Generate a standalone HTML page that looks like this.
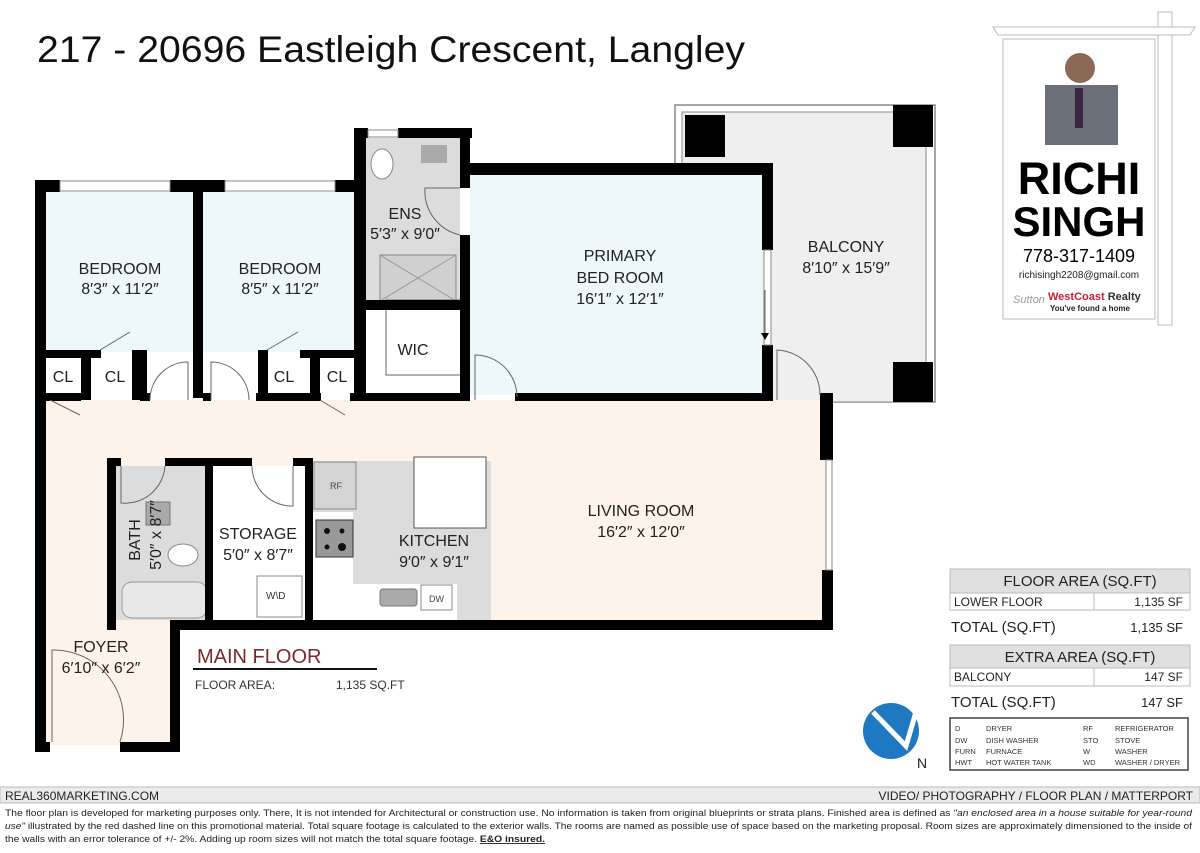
<!DOCTYPE html>
<html><head><meta charset="utf-8"><style>
html,body{margin:0;padding:0;background:#fff;}
svg text{font-family:"Liberation Sans",sans-serif;}
</style></head><body>
<svg width="1200" height="848" viewBox="0 0 1200 848" xmlns="http://www.w3.org/2000/svg">
<rect width="1200" height="848" fill="#fff"/>
<text x="37" y="62" font-size="37" fill="#111" textLength="708" lengthAdjust="spacingAndGlyphs">217 - 20696 Eastleigh Crescent, Langley</text>

<!-- fills -->
<rect x="675" y="105" width="260" height="297" fill="#fff" stroke="#888" stroke-width="1.5"/>
<rect x="682" y="112" width="244" height="290" fill="#efefef" stroke="#888" stroke-width="1"/>
<rect x="46" y="192" width="147" height="160" fill="#eef7fa"/>
<rect x="203" y="192" width="155" height="160" fill="#eef7fa"/>
<rect x="470" y="175" width="292" height="220" fill="#eef7fa"/>
<rect x="46" y="400" width="782" height="220" fill="#fdf3ea"/>
<rect x="46" y="620" width="125" height="125" fill="#fdf3ea"/>
<rect x="366" y="138" width="94" height="162" fill="#dcdcdc"/>
<rect x="366" y="310" width="94" height="85" fill="#fff"/>
<rect x="116" y="466" width="89" height="154" fill="#dcdcdc"/>
<rect x="213" y="466" width="92" height="154" fill="#fff"/>
<rect x="313" y="461" width="178" height="159" fill="#dcdcdc"/>
<rect x="313" y="512" width="40" height="108" fill="#fff"/>
<rect x="353" y="584" width="104" height="36" fill="#fff"/>
<rect x="414" y="457" width="72" height="71" fill="#fff" stroke="#555" stroke-width="1"/>
<rect x="314" y="462" width="42" height="47" fill="#d4d4d4" stroke="#888"/>
<text x="330" y="489" font-size="9" fill="#444">RF</text>
<rect x="316" y="520" width="37" height="37" fill="#999" stroke="#333"/>
<circle cx="327" cy="531" r="3" fill="#111"/><circle cx="342" cy="531" r="2.5" fill="#111"/><circle cx="327" cy="547" r="2.5" fill="#111"/><circle cx="342" cy="547" r="4" fill="#111"/>
<rect x="380" y="589" width="37" height="17" rx="3" fill="#aaa" stroke="#777"/>
<rect x="421" y="585" width="31" height="25" fill="#fff" stroke="#888"/>
<text x="429" y="602" font-size="9" fill="#444">DW</text>
<rect x="380" y="255" width="76" height="46" fill="#d0d0d0" stroke="#888"/>
<line x1="380" y1="255" x2="456" y2="301" stroke="#999"/><line x1="456" y1="255" x2="380" y2="301" stroke="#999"/>
<ellipse cx="382" cy="164" rx="11" ry="15" fill="#fff" stroke="#888"/>
<rect x="421" y="145" width="26" height="18" fill="#aaa"/>
<rect x="146" y="502" width="24" height="23" fill="#aaa" stroke="#777"/>
<ellipse cx="183" cy="555" rx="15" ry="11" fill="#fff" stroke="#888"/>
<rect x="122" y="582" width="85" height="36" rx="10" fill="#e8e8e8" stroke="#999"/>
<rect x="257" y="576" width="45" height="41" fill="#fff" stroke="#888"/>
<text x="266" y="599" font-size="10" fill="#333">W\D</text>
<rect x="386" y="300" width="76" height="75" fill="none" stroke="#666"/>

<!-- walls -->
<g fill="#000">
<rect x="35" y="180" width="11" height="572"/>
<rect x="35" y="180" width="25" height="12"/><rect x="170" y="180" width="55" height="12"/><rect x="335" y="180" width="31" height="12"/>
<rect x="193" y="180" width="10" height="218"/>
<rect x="354" y="128" width="12" height="272"/>
<rect x="354" y="128" width="14" height="10"/><rect x="398" y="128" width="74" height="10"/>
<rect x="460" y="128" width="10" height="60"/><rect x="460" y="235" width="10" height="165"/>
<rect x="460" y="163" width="313" height="12"/>
<rect x="762" y="163" width="11" height="87"/><rect x="762" y="345" width="11" height="55"/>
<rect x="515" y="393" width="258" height="8"/>
<rect x="46" y="393" width="35" height="8"/><rect x="140" y="393" width="10" height="8"/>
<rect x="203" y="393" width="8" height="8"/><rect x="256" y="393" width="65" height="8"/><rect x="350" y="393" width="120" height="8"/>
<rect x="46" y="350" width="55" height="8"/><rect x="132" y="350" width="15" height="50"/><rect x="81" y="350" width="10" height="50"/>
<rect x="258" y="350" width="10" height="50"/><rect x="300" y="350" width="58" height="8"/><rect x="310" y="350" width="10" height="50"/>
<rect x="366" y="300" width="96" height="10"/>
<rect x="820" y="393" width="13" height="67"/><rect x="822" y="570" width="11" height="60"/>
<rect x="170" y="620" width="663" height="10"/>
<rect x="170" y="620" width="10" height="132"/>
<rect x="35" y="742" width="15" height="10"/><rect x="120" y="742" width="60" height="10"/>
<rect x="107" y="458" width="9" height="172"/><rect x="107" y="458" width="14" height="8"/><rect x="165" y="458" width="87" height="8"/><rect x="293" y="458" width="20" height="8"/>
<rect x="205" y="458" width="8" height="162"/><rect x="305" y="458" width="8" height="162"/>
<rect x="685" y="115" width="40" height="42"/><rect x="893" y="105" width="40" height="42"/><rect x="893" y="362" width="40" height="40"/>
</g>
<g fill="#fff" stroke="#888" stroke-width="1">
<rect x="60" y="181" width="110" height="10"/><rect x="225" y="181" width="110" height="10"/>
<rect x="368" y="130" width="30" height="7"/>
<rect x="764" y="250" width="7" height="95"/>
<rect x="826" y="460" width="6" height="110"/>
</g>
<g fill="none" stroke="#666" stroke-width="1">
<path d="M150 400 A38 38 0 0 1 188 362 L188 400"/><path d="M211 400 L211 362 A38 38 0 0 1 249 400"/>
<path d="M475 400 L475 355 A42 42 0 0 1 517 397"/><path d="M777 400 L777 350 A45 45 0 0 1 820 395"/>
<path d="M52 742 L52 650 A70 70 0 0 1 120 742"/><path d="M121 466 L121 503 A40 40 0 0 0 165 466"/>
<path d="M252 466 A40 40 0 0 0 293 506 L293 466"/><path d="M460 188 L425 188 A45 45 0 0 0 460 235"/>
<path d="M50 400 L80 415"/><path d="M320 400 L345 415"/><path d="M100 350 L130 332"/><path d="M267 350 L298 332"/>
<path d="M765 290 L765 335"/>
</g>
<path d="M761 333 L769 333 L765 340Z" fill="#000"/>

<g font-size="16" fill="#222" text-anchor="middle">
<text x="120" y="274">BEDROOM</text><text x="120" y="294">8′3″ x 11′2″</text>
<text x="280" y="274">BEDROOM</text><text x="280" y="294">8′5″ x 11′2″</text>
<text x="405" y="219">ENS</text><text x="405" y="239">5′3″ x 9′0″</text>
<text x="413" y="355">WIC</text>
<text x="620" y="261">PRIMARY</text><text x="620" y="283">BED ROOM</text><text x="620" y="304">16′1″ x 12′1″</text>
<text x="846" y="252">BALCONY</text><text x="846" y="273">8′10″ x 15′9″</text>
<text x="641" y="516">LIVING ROOM</text><text x="641" y="537">16′2″ x 12′0″</text>
<text x="434" y="546">KITCHEN</text><text x="434" y="567">9′0″ x 9′1″</text>
<text x="258" y="539">STORAGE</text><text x="258" y="560">5′0″ x 8′7″</text>
<text x="101" y="652">FOYER</text><text x="101" y="673">6′10″ x 6′2″</text>
<text x="63" y="382">CL</text><text x="115" y="382">CL</text><text x="284" y="382">CL</text><text x="337" y="382">CL</text>
<text transform="translate(140,540) rotate(-90)">BATH</text><text transform="translate(161,535) rotate(-90)">5′0″ x 8′7″</text>
</g>

<text x="197" y="663" font-size="20" fill="#7a2a2a">MAIN FLOOR</text>
<rect x="193" y="668" width="184" height="2" fill="#111"/>
<text x="195" y="689" font-size="12" fill="#333">FLOOR AREA:</text>
<text x="336" y="689" font-size="12" fill="#333">1,135 SQ.FT</text>

<!-- tables -->
<g font-size="13" fill="#222">
<rect x="950" y="569" width="240" height="24" fill="#e0e0e0" stroke="#bbb"/>
<text x="1080" y="586" font-size="15" text-anchor="middle">FLOOR AREA (SQ.FT)</text>
<rect x="950" y="593" width="240" height="17" fill="#fff" stroke="#bbb"/><line x1="1094" y1="593" x2="1094" y2="610" stroke="#bbb"/>
<text x="954" y="606" font-size="12">LOWER FLOOR</text><text x="1183" y="606" font-size="12" text-anchor="end">1,135 SF</text>
<text x="951" y="632" font-size="15">TOTAL (SQ.FT)</text><text x="1183" y="632" text-anchor="end">1,135 SF</text>
<rect x="950" y="645" width="240" height="23" fill="#e0e0e0" stroke="#bbb"/>
<text x="1080" y="662" font-size="15" text-anchor="middle">EXTRA AREA (SQ.FT)</text>
<rect x="950" y="668" width="240" height="18" fill="#fff" stroke="#bbb"/><line x1="1094" y1="668" x2="1094" y2="686" stroke="#bbb"/>
<text x="954" y="681" font-size="12">BALCONY</text><text x="1183" y="681" font-size="12" text-anchor="end">147 SF</text>
<text x="951" y="707" font-size="15">TOTAL (SQ.FT)</text><text x="1183" y="707" text-anchor="end">147 SF</text>
</g>
<rect x="950" y="718" width="238" height="52" fill="#fff" stroke="#444" stroke-width="1.5"/>
<g font-size="7.5" fill="#333">
<text x="955" y="731">D</text><text x="986" y="731">DRYER</text><text x="1083" y="731">RF</text><text x="1115" y="731">REFRIGERATOR</text>
<text x="955" y="743">DW</text><text x="986" y="743">DISH WASHER</text><text x="1083" y="743">STO</text><text x="1115" y="743">STOVE</text>
<text x="955" y="754">FURN</text><text x="986" y="754">FURNACE</text><text x="1083" y="754">W</text><text x="1115" y="754">WASHER</text>
<text x="955" y="765">HWT</text><text x="986" y="765">HOT WATER TANK</text><text x="1083" y="765">WD</text><text x="1115" y="765">WASHER / DRYER</text>
</g>

<circle cx="891" cy="731" r="28" fill="#1e78c2"/>
<path d="M873 712 L906 746 L916 712" fill="none" stroke="#fff" stroke-width="5"/>
<text x="917" y="768" font-size="14" fill="#222">N</text>

<!-- sign -->
<rect x="1158" y="12" width="14" height="313" fill="#fff" stroke="#bbb"/>
<path d="M993 27 L1195 27 L1190 35 L998 35Z" fill="#fff" stroke="#bbb"/>
<rect x="1003" y="39" width="152" height="280" fill="#fff" stroke="#bbb"/>
<rect x="1045" y="85" width="73" height="60" fill="#6a6f7a"/>
<circle cx="1080" cy="68" r="15" fill="#8a6a55"/>
<rect x="1075" y="88" width="8" height="40" fill="#3a2440"/>
<text x="1079" y="194" font-size="45" font-weight="bold" fill="#000" text-anchor="middle" font-family="DejaVu Sans">RICHI</text>
<text x="1079" y="236" font-size="42" font-weight="bold" fill="#000" text-anchor="middle" font-family="DejaVu Sans">SINGH</text>
<text x="1079" y="262" font-size="18" fill="#000" text-anchor="middle">778-317-1409</text>
<text x="1079" y="278" font-size="10" fill="#222" text-anchor="middle">richisingh2208@gmail.com</text>
<text x="1013" y="303" font-size="11" fill="#999" font-style="italic" font-family="Liberation Serif">Sutton</text>
<text x="1048" y="300" font-size="11" font-weight="bold" fill="#c0223b">WestCoast <tspan fill="#333">Realty</tspan></text>
<text x="1050" y="311" font-size="8" font-weight="bold" fill="#222">You've found a home</text>

<!-- footer -->
<rect x="0" y="787" width="1200" height="16" fill="#ebebeb" stroke="#bbb"/>
<text x="5" y="800" font-size="12" fill="#222">REAL360MARKETING.COM</text>
<text x="1193" y="800" font-size="12" fill="#222" text-anchor="end">VIDEO/ PHOTOGRAPHY / FLOOR PLAN / MATTERPORT</text>
<g font-size="9" fill="#222">
<text x="5" y="816" textLength="1187" lengthAdjust="spacingAndGlyphs">The floor plan is developed for marketing purposes only. There, It is not intended for Architectural or construction use. No information is  taken from original blueprints or strata plans. Finished area is defined as  <tspan font-style="italic">"an enclosed area in a house suitable for year-round</tspan></text>
<text x="5" y="829" textLength="1187" lengthAdjust="spacingAndGlyphs"><tspan font-style="italic">use"</tspan> illustrated by the red dashed line on this promotional material. Total square footage is calculated to the exterior walls. The rooms are named as possible use of space based on the marketing proposal. Room sizes are approximately dimensioned to the inside of</text>
<text x="5" y="842" textLength="540" lengthAdjust="spacingAndGlyphs">the walls with an error tolerance of +/- 2%. Adding up room sizes will not match the total square footage. <tspan font-weight="bold" text-decoration="underline">E&amp;O insured.</tspan></text>
</g>
</svg>
</body></html>
